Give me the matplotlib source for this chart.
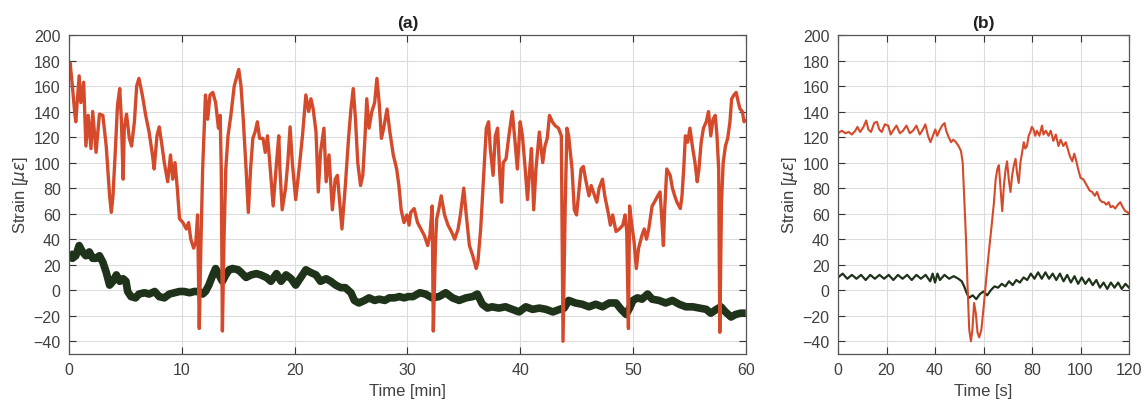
import matplotlib
matplotlib.use("Agg")
import matplotlib.pyplot as plt

plt.rcParams['font.family'] = ['Liberation Sans', 'DejaVu Sans']
plt.rcParams['mathtext.fontset'] = 'dejavusans'

# ---------------- data ----------------
# panel (a): time [min], strain [micro-strain]
red_a = [(0, 165), (0.1, 178), (0.3, 160), (0.5, 140), (0.6, 132), (0.9, 168), (1.05, 147),
         (1.3, 163), (1.5, 113), (1.7, 137), (1.95, 111), (2.1, 140), (2.4, 108), (2.7, 138),
         (3.0, 137), (3.3, 113), (3.6, 74), (3.75, 61), (3.9, 74), (4.1, 108), (4.3, 145),
         (4.5, 158), (4.65, 132), (4.8, 87), (4.9, 127), (5.1, 138), (5.35, 119), (5.55, 113),
         (5.8, 132), (6.0, 160), (6.2, 166), (6.5, 153), (6.8, 137), (7.1, 124), (7.4, 106),
         (7.55, 95), (7.8, 121), (8.0, 128), (8.25, 113), (8.45, 100), (8.75, 85), (9.0, 106),
         (9.2, 87), (9.4, 100), (9.6, 80), (9.8, 56), (10.1, 53), (10.4, 48), (10.6, 53),
         (10.8, 40), (11.05, 33), (11.25, 38), (11.4, 59), (11.55, -30), (11.7, 38), (11.85, 95),
         (12.1, 153), (12.3, 134), (12.5, 153), (12.75, 155), (13.0, 147), (13.25, 127),
         (13.4, 137), (13.5, 95), (13.6, -32), (13.75, 43), (13.9, 95), (14.1, 121), (14.35, 137),
         (14.65, 160), (14.9, 168), (15.05, 173), (15.25, 160), (15.45, 134), (15.7, 95),
         (15.9, 61), (16.1, 95), (16.3, 119), (16.5, 124), (16.7, 132), (16.9, 119), (17.2, 119),
         (17.4, 108), (17.6, 121), (17.8, 100), (18.1, 66), (18.4, 100), (18.6, 121), (18.7, 95),
         (18.9, 63), (19.2, 80), (19.4, 100), (19.6, 128), (19.8, 100), (20.1, 71), (20.4, 95),
         (20.7, 121), (21.0, 153), (21.25, 140), (21.45, 150), (21.65, 142), (21.9, 124),
         (22.1, 77), (22.3, 108), (22.6, 127), (22.8, 85), (23.05, 106), (23.35, 63), (23.6, 87),
         (23.8, 90), (24.0, 69), (24.2, 48), (24.5, 82), (24.8, 121), (25.0, 142), (25.2, 158),
         (25.4, 134), (25.6, 100), (25.85, 82), (26.05, 90), (26.25, 121), (26.4, 150),
         (26.6, 127), (26.85, 140), (27.1, 147), (27.3, 166), (27.5, 147), (27.7, 119),
         (27.9, 127), (28.2, 142), (28.45, 124), (28.75, 106), (29.05, 95), (29.25, 82),
         (29.45, 63), (29.7, 53), (29.95, 59), (30.15, 51), (30.3, 61), (30.6, 64), (30.9, 53),
         (31.2, 48), (31.5, 43), (31.8, 35), (32.0, 43), (32.2, 66), (32.3, -32), (32.5, 38),
         (32.6, 56), (32.8, 64), (33.0, 74), (33.3, 59), (33.6, 51), (33.9, 46), (34.2, 40),
         (34.5, 48), (34.7, 59), (35.0, 80), (35.2, 61), (35.5, 35), (35.8, 27), (36.1, 17),
         (36.25, 22), (36.5, 48), (36.8, 95), (37.0, 127), (37.2, 132), (37.35, 111), (37.6, 90),
         (37.8, 121), (38.0, 127), (38.2, 90), (38.35, 69), (38.5, 100), (38.75, 103), (39.0, 121),
         (39.2, 134), (39.3, 140), (39.55, 116), (39.75, 95), (40.0, 132), (40.2, 121),
         (40.45, 95), (40.65, 71), (40.85, 95), (41.0, 111), (41.2, 63), (41.4, 95), (41.7, 124),
         (42.0, 100), (42.2, 113), (42.4, 119), (42.6, 137), (42.85, 132), (43.1, 129),
         (43.4, 127), (43.65, 121), (43.8, -40), (44.0, 69), (44.15, 127), (44.3, 121),
         (44.6, 95), (44.8, 63), (45.0, 59), (45.2, 77), (45.4, 95), (45.6, 97), (45.8, 87),
         (46.1, 74), (46.3, 82), (46.6, 74), (46.8, 69), (47.0, 80), (47.3, 87), (47.5, 74),
         (47.8, 61), (48.0, 51), (48.2, 59), (48.5, 46), (48.8, 48), (49.1, 51), (49.3, 59),
         (49.45, 46), (49.6, -30), (49.7, 66), (49.9, 51), (50.1, 38), (50.3, 17), (50.5, 33),
         (50.8, 43), (51.0, 48), (51.2, 40), (51.4, 48), (51.7, 66), (51.9, 69), (52.2, 74),
         (52.4, 77), (52.5, 64), (52.7, 35), (52.8, 61), (53.0, 95), (53.3, 90), (53.5, 80),
         (53.7, 74), (53.9, 69), (54.2, 64), (54.35, 74), (54.5, 95), (54.65, 121), (54.85, 116),
         (55.05, 127), (55.3, 111), (55.5, 100), (55.7, 85), (55.85, 95), (56.05, 116),
         (56.25, 127), (56.5, 132), (56.7, 140), (56.9, 121), (57.1, 134), (57.3, 137),
         (57.45, 121), (57.6, 95), (57.7, -33), (57.85, 69), (58.0, 100), (58.2, 113),
         (58.4, 119), (58.6, 132), (58.75, 150), (58.95, 153), (59.15, 155), (59.35, 147),
         (59.5, 142), (59.7, 140), (59.85, 132), (60.0, 134)]

green_a = [(0, 30), (0.3, 25), (0.6, 27), (0.9, 35), (1.2, 30), (1.5, 27), (1.8, 30), (2.1, 25),
           (2.4, 25), (2.7, 27), (3.0, 22), (3.3, 14), (3.6, 4), (3.9, 7), (4.2, 12), (4.5, 7),
           (4.8, 9), (5.05, 7), (5.2, -1), (5.5, -5), (5.9, -6), (6.2, -3), (6.7, -2), (7.1, -3),
           (7.6, -1), (8.0, -5), (8.45, -6), (8.9, -3), (9.35, -2), (9.8, -1), (10.2, -1),
           (10.7, -2), (11.1, -1), (11.55, -1), (11.85, -3), (12.1, -1), (12.4, 4), (12.75, 12),
           (13.0, 17), (13.3, 12), (13.6, 7), (13.9, 12), (14.2, 16), (14.5, 17), (15.0, 16),
           (15.25, 14), (15.7, 10), (16.15, 12), (16.6, 13), (17.0, 12), (17.5, 10), (17.9, 7),
           (18.4, 13), (18.8, 7), (19.25, 12), (19.7, 9), (20.1, 4), (20.55, 10), (21.0, 16),
           (21.4, 14), (21.9, 12), (22.3, 7), (22.8, 9), (23.2, 7), (23.65, 4), (24.1, 2),
           (24.5, 2), (25.0, -2), (25.3, -8), (25.7, -10), (26.2, -8), (26.6, -6), (27.1, -8),
           (27.5, -7), (28.0, -8), (28.4, -6), (28.85, -6), (29.3, -5), (29.7, -6), (30.1, -5),
           (30.5, -5), (31.1, -2), (31.6, -3), (32.2, -6), (32.8, -5), (33.4, -2), (34.0, -6),
           (34.6, -8), (35.2, -6), (35.8, -5), (36.2, -3), (36.65, -11), (37.1, -14), (37.5, -13),
           (38.1, -14), (38.7, -13), (39.3, -15), (39.9, -17), (40.5, -13), (41.1, -15),
           (41.7, -14), (42.3, -15), (42.9, -17), (43.5, -15), (43.9, -14), (44.3, -8),
           (44.9, -10), (45.5, -11), (46.1, -13), (46.7, -11), (47.3, -13), (47.9, -10),
           (48.5, -10), (48.95, -15), (49.4, -19), (49.7, -14), (50.0, -8), (50.4, -6),
           (50.8, -7), (51.3, -3), (51.7, -7), (52.3, -8), (52.9, -10), (53.5, -8), (54.1, -11),
           (54.7, -13), (55.3, -13), (55.9, -14), (56.5, -15), (56.9, -18), (57.4, -15),
           (57.8, -13), (58.2, -17), (58.7, -21), (59.1, -19), (59.55, -18), (60.0, -18)]

# panel (b): time [s], strain [micro-strain]
red_b = [(0, 123), (1.6, 125), (3, 123), (4.4, 124), (5.7, 122), (7.1, 125), (8, 128), (9.1, 124),
         (10.5, 128), (11.6, 133), (12.5, 126), (13.6, 124), (14.9, 131), (16, 132), (17, 126),
         (18, 124), (19.3, 130), (20.7, 129), (21.7, 122), (23, 126), (24.1, 129), (25.5, 123),
         (26.8, 125), (28.2, 129), (29.6, 123), (30.9, 125), (32.3, 129), (33.7, 122), (35, 126),
         (36, 130), (37.1, 121), (38.1, 116), (39.1, 121), (40.1, 126), (40.9, 121), (41.8, 125),
         (42.9, 129), (43.9, 131), (44.6, 125), (45.6, 120), (46.6, 116), (47.5, 118),
         (48.6, 116), (49.7, 113), (50.7, 109), (51.4, 100), (52, 74), (52.7, 43), (53.4, 3),
         (54.1, -31), (54.8, -40), (55.4, -31), (56.1, -10), (56.8, -18), (57.5, -33),
         (58.2, -37), (59.1, -31), (60.2, -10), (61.2, 11), (62.3, 32), (63.3, 50), (64.3, 69),
         (65, 87), (65.7, 95), (66.3, 98), (67, 80), (67.7, 62), (68.4, 82), (69.1, 95),
         (69.7, 101), (70.4, 87), (71.1, 77), (71.8, 90), (72.5, 98), (73.2, 103), (73.8, 92),
         (74.5, 84), (75.2, 100), (75.9, 108), (76.6, 116), (77.2, 111), (77.9, 113), (78.6, 121),
         (79.3, 124), (79.9, 128), (80.6, 126), (81.3, 121), (82, 125), (83, 121), (84.1, 129),
         (84.7, 122), (85.7, 125), (86.8, 121), (87.7, 125), (88.8, 117), (89.8, 122),
         (90.9, 113), (91.8, 118), (92.9, 113), (93.9, 116), (95, 109), (95.6, 105), (96.6, 101),
         (97.4, 107), (98, 103), (99, 95), (100, 88), (101.1, 87), (102, 84), (102.9, 81),
         (103.8, 78), (104.8, 77), (105.9, 74), (106.8, 77), (107.9, 71), (108.9, 69),
         (109.7, 69), (110.6, 67), (111.6, 69), (112.4, 65), (113.3, 66), (114.3, 64),
         (115.4, 67), (116.4, 69), (117.4, 65), (118.4, 62), (119.5, 61), (120, 60)]

green_b = [(0, 10), (1.9, 13), (3.8, 9), (5.7, 12), (7.6, 9), (9.5, 12), (11.4, 8), (13.3, 12),
           (15.2, 9), (17.1, 12), (19.0, 9), (20.9, 12), (22.8, 8), (24.7, 12), (26.6, 9),
           (28.5, 12), (30.4, 8), (32.3, 12), (34.2, 9), (36.1, 12), (38.0, 7), (39.0, 13),
           (40.0, 6), (41.0, 13), (42.0, 8), (43.9, 12), (45.8, 9), (47.7, 11), (49.6, 9),
           (51, 7), (52, 3), (53, -2), (54, -6), (55.5, -4), (57, -7), (58.5, -3), (60, -1),
           (61.5, -4), (63, 0), (64.5, 3), (66, 2), (67.5, 5), (69, 3), (70.5, 7), (72, 4),
           (73.5, 8), (75, 6), (76.5, 10), (78, 8), (79.5, 13), (81, 9), (82.5, 14), (84, 9),
           (85.5, 14), (87, 9), (88.5, 13), (90, 8), (91.5, 13), (93, 7), (94.5, 12), (96, 6),
           (97.5, 11), (99, 5), (100.5, 10), (102, 5), (103.5, 9), (105, 4), (106.5, 8), (108, 2),
           (109.5, 6), (111, 1), (112.5, 6), (114, 2), (115.5, 6), (117, 1), (118.5, 5), (120, 2)]

y_ticks = [-40, -20, 0, 20, 40, 60, 80, 100, 120, 140, 160, 180, 200]
xa_ticks = [0, 10, 20, 30, 40, 50, 60]
xb_ticks = [0, 20, 40, 60, 80, 100, 120]

RED = '#D44A2B'
GREEN = '#1E3319'
TXT = '#404040'

fig = plt.figure(figsize=(11.48, 4.10), dpi=100)
ax_a = fig.add_axes([0.0601, 0.1341, 0.5895, 0.7781])
ax_b = fig.add_axes([0.7300, 0.1341, 0.2535, 0.7781])


def style(ax, xticks, xlim, xlabel, title):
    ax.set_xlim(*xlim)
    ax.set_ylim(-50, 200)
    ax.set_xticks(xticks)
    ax.set_yticks(y_ticks)
    ax.grid(True, color='#DCDCDC', linewidth=0.8)
    ax.set_axisbelow(True)
    ax.tick_params(direction='in', length=5, width=0.8, top=True, right=True,
                   colors='#333333', labelcolor=TXT, labelsize=11.5, pad=6)
    for s in ax.spines.values():
        s.set_color('#555555')
        s.set_linewidth(0.9)
    ax.set_xlabel(xlabel, fontsize=12, color=TXT, labelpad=4)
    ax.set_ylabel(r'Strain [$\mu\epsilon$]', fontsize=12, color=TXT, labelpad=2)
    ax.set_title(title, fontsize=12.5, fontweight='bold', color='#202020', pad=6)


ax_a.plot([p[0] for p in green_a], [p[1] for p in green_a], color=GREEN, lw=5.5,
          solid_joinstyle='round', solid_capstyle='butt')
ax_a.plot([p[0] for p in red_a], [p[1] for p in red_a], color=RED, lw=2.4,
          solid_joinstyle='round', solid_capstyle='butt')
style(ax_a, xa_ticks, (0, 60), 'Time [min]', '(a)')

ax_b.plot([p[0] for p in green_b], [p[1] for p in green_b], color=GREEN, lw=1.6)
ax_b.plot([p[0] for p in red_b], [p[1] for p in red_b], color=RED, lw=1.5)
style(ax_b, xb_ticks, (0, 120), 'Time [s]', '(b)')

fig.savefig('out.png', dpi=100)
